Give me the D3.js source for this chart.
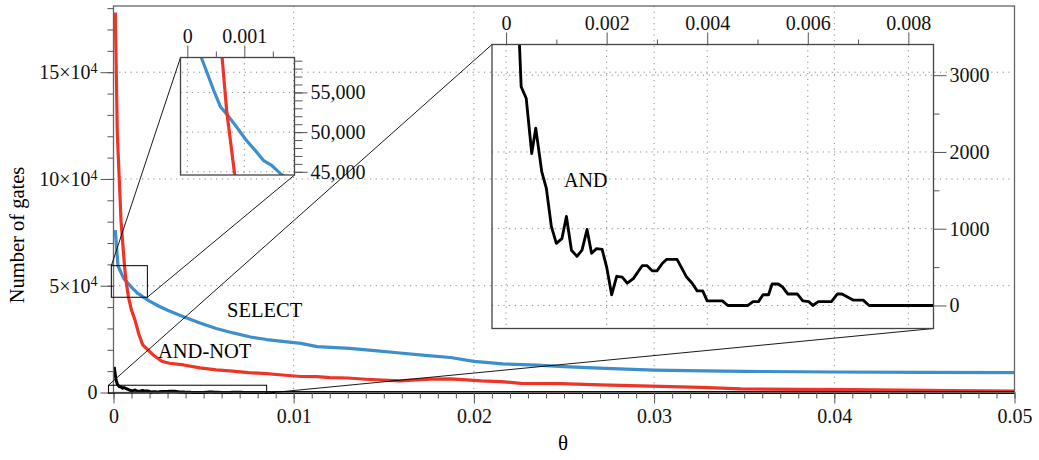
<!DOCTYPE html>
<html lang="en">
<head>
<meta charset="UTF-8">
<title>Number of gates vs theta</title>
<script src="https://cdn.jsdelivr.net/npm/d3@7"></script>
<style>
    * { margin: 0; padding: 0; }
    body { background: #fff; }
    .tick line { stroke: #555; }
    .grid { stroke: #888; stroke-dasharray: 1.2, 4.5; stroke-width: 1; }
</style>
</head>
<body>
<svg id="chart" width="1039" height="460"></svg>
<script>
    const FONT = "Liberation Serif, Times New Roman, serif";

    // values
    const selectTheta = [0.0001, 0.0002, 0.00025, 0.00034, 0.00046, 0.00058, 0.0007, 0.00087, 0.00102, 0.00119, 0.00134, 0.00148, 0.00163, 0.002, 0.0025, 0.003, 0.00388, 0.0048, 0.0057, 0.00664, 0.0076, 0.0085, 0.0095, 0.0104, 0.0113, 0.0131, 0.0145, 0.0159, 0.0173, 0.0187, 0.02, 0.0216, 0.0235, 0.025, 0.0273, 0.03, 0.0318, 0.0349, 0.04, 0.045, 0.05];
    const selectGates = [76000, 64800, 59300, 57600, 55300, 53200, 52200, 50600, 49100, 47700, 46400, 45800, 44800, 42800, 40500, 38500, 35500, 32500, 30000, 27900, 26000, 24800, 23800, 23000, 21500, 20700, 19600, 18500, 17400, 16400, 14600, 13400, 12800, 12100, 11300, 10500, 10200, 9900, 9600, 9400, 9300];

    const andNotTheta = [0.0001, 0.00021, 0.00042, 0.00061, 0.00069, 0.00083, 0.001, 0.00119, 0.0014, 0.00162, 0.0022, 0.00268, 0.0031, 0.0039, 0.0048, 0.0057, 0.0066, 0.0075, 0.0085, 0.0092, 0.0104, 0.0113, 0.012, 0.013, 0.014, 0.0159, 0.0168, 0.0176, 0.0187, 0.0198, 0.0204, 0.0215, 0.0226, 0.0248, 0.027, 0.0298, 0.0326, 0.0348, 0.038, 0.0409, 0.0437, 0.0464, 0.05];
    const andNotGates = [178000, 121600, 80000, 59400, 52700, 44700, 38500, 34000, 27500, 22300, 17600, 14600, 13700, 12900, 11500, 10600, 10000, 9300, 8800, 8300, 7500, 7400, 7000, 6800, 6200, 5400, 5900, 6300, 6400, 5800, 5400, 5100, 4300, 4200, 3600, 3000, 2400, 1700, 1500, 1300, 1100, 900, 600];

    const andTheta = [0.00004, 0.00009, 0.00014, 0.0002, 0.00026, 0.0003, 0.0004, 0.00051, 0.00059, 0.00071, 0.0008, 0.0009, 0.001, 0.00111, 0.0012, 0.0013, 0.00141, 0.00151, 0.00161, 0.0017, 0.0018, 0.00191, 0.002, 0.0021, 0.0022, 0.00231, 0.00241, 0.00253, 0.00271, 0.0028, 0.00291, 0.003, 0.00311, 0.00319, 0.0034, 0.00359, 0.0037, 0.0038, 0.00391, 0.004, 0.0043, 0.00441, 0.00481, 0.00491, 0.00502, 0.00511, 0.00522, 0.00529, 0.00541, 0.0055, 0.0056, 0.00579, 0.0059, 0.00602, 0.0061, 0.00621, 0.00647, 0.00659, 0.00668, 0.0069, 0.0071, 0.00722, 0.0085, 0.05];
    const andGates = [12000, 9000, 6000, 4200, 3500, 2850, 2700, 1980, 2310, 1740, 1530, 1030, 810, 870, 1160, 720, 640, 720, 990, 680, 740, 730, 500, 140, 380, 370, 290, 350, 520, 520, 450, 450, 550, 600, 600, 370, 290, 190, 190, 60, 60, 0, 0, 50, 50, 140, 140, 280, 280, 240, 150, 150, 60, 50, 0, 50, 50, 150, 150, 70, 70, 0, 0, 0];

    // ticks
    const xTicks = [0, 0.01, 0.02, 0.03, 0.04, 0.05];
    const xTickLabels = ["0", "0.01", "0.02", "0.03", "0.04", "0.05"];
    const yTicks = [0, 50000, 100000, 150000];
    const yTickBase = ["0", "5×10", "10×10", "15×10"];
    const yTickExp = ["", "4", "4", "4"];

    const zoomATicks = [0, 0.001];
    const zoomATickLabels = ["0", "0.001"];
    const zoomAYTicks = [45000, 50000, 55000];
    const zoomAYTickLabels = ["45,000", "50,000", "55,000"];

    const zoomBTicks = [0, 0.002, 0.004, 0.006, 0.008];
    const zoomBTickLabels = ["0", "0.002", "0.004", "0.006", "0.008"];
    const zoomBYTicks = [0, 1000, 2000, 3000];
    const zoomBYTickLabels = ["0", "1000", "2000", "3000"];

    const svg = d3.select("#chart").attr("font-family", FONT);

    // main scales
    const x = d3.scaleLinear().domain([0, 0.05]).range([113.5, 1014.5]);
    const y = d3.scaleLinear().domain([0, 181000]).range([392.5, 6]);

    // inset scales (upper-left small one, and the big one for AND)
    const xA = d3.scaleLinear().domain([-0.00012, 0.00188]).range([180.5, 294.5]);
    const yA = d3.scaleLinear().domain([44600, 59400]).range([175, 57.5]);
    const xB = d3.scaleLinear().domain([-0.00028, 0.0085]).range([492, 933.5]);
    const yB = d3.scaleLinear().domain([-300, 3400]).range([328.5, 44.5]);

    const series = [
        { theta: selectTheta, gates: selectGates, color: "#3d8fcc", width: 3.2 },
        { theta: andNotTheta, gates: andNotGates, color: "#ee3426", width: 3.2 },
        { theta: andTheta, gates: andGates, color: "#000", width: 3 }
    ];

    const defs = svg.append("defs");
    function clip(id, xs, ys, extra) {
        defs.append("clipPath").attr("id", id).append("rect")
            .attr("x", xs.range()[0]).attr("y", ys.range()[1])
            .attr("width", xs.range()[1] - xs.range()[0])
            .attr("height", ys.range()[0] - ys.range()[1] + (extra || 0));
    }
    clip("clipMain", x, y, 3);
    clip("clipA", xA, yA);
    clip("clipB", xB, yB);

    // grids
    function grid(xs, ys, xv, yv) {
        const g = svg.append("g");
        g.selectAll(".gx").data(xv).enter().append("line").attr("class", "grid")
            .attr("x1", d => xs(d)).attr("x2", d => xs(d))
            .attr("y1", ys.range()[1]).attr("y2", ys.range()[0]);
        g.selectAll(".gy").data(yv).enter().append("line").attr("class", "grid")
            .attr("x1", xs.range()[0]).attr("x2", xs.range()[1])
            .attr("y1", d => ys(d)).attr("y2", d => ys(d));
    }
    grid(x, y, [0.01, 0.02, 0.03, 0.04], [50000, 100000, 150000]);
    grid(xA, yA, zoomATicks, zoomAYTicks);
    grid(xB, yB, zoomBTicks, zoomBYTicks);

    // curves
    function drawLines(xs, ys, clipId, list, widthScale) {
        const line = d3.line().x(d => xs(d[0])).y(d => ys(d[1]));
        svg.append("g").attr("clip-path", `url(#${clipId})`)
            .selectAll("path").data(list).enter().append("path")
            .attr("d", d => line(d3.zip(d.theta, d.gates)))
            .attr("fill", "none")
            .attr("stroke", d => d.color)
            .attr("stroke-width", d => d.width * widthScale)
            .attr("stroke-linejoin", "round");
    }
    drawLines(x, y, "clipMain", series, 1);
    drawLines(xA, yA, "clipA", series.slice(0, 2), 1);
    drawLines(xB, yB, "clipB", series.slice(2), 0.95);

    // main frame
    svg.append("rect")
        .attr("x", 113.5).attr("y", 6).attr("width", 901).attr("height", 386.5)
        .attr("fill", "none").attr("stroke", "#666").attr("stroke-width", 1.3);

    // axis helper: draws an axis, drops the domain path, sets the serif font
    function axis(transform, ax) {
        return svg.append("g").attr("transform", transform)
            .call(ax)
            .call(g => g.select(".domain").remove())
            .attr("font-family", FONT)
            .attr("font-size", 20)
            .call(g => g.selectAll(".tick text").attr("fill", "#111"));
    }

    // main axes
    const xMinor = d3.range(0, 51).map(i => i / 1000);
    axis("translate(0,392.5)", d3.axisBottom(x).tickValues(xMinor).tickSize(6).tickFormat(""));
    axis("translate(0,392.5)", d3.axisBottom(x).tickValues(xTicks).tickSize(11).tickPadding(5).tickFormat((d, i) => xTickLabels[i]));

    const yMinor = d3.range(0, 180001, 10000);
    axis("translate(113.5,0)", d3.axisLeft(y).tickValues(yMinor).tickSize(6).tickFormat(""));
    const yAxisG = axis("translate(113.5,0)", d3.axisLeft(y).tickValues(yTicks).tickSize(13).tickPadding(3).tickFormat(""));
    yAxisG.selectAll(".tick text").each(function (d, i) {
        const t = d3.select(this);
        t.append("tspan").text(yTickBase[i]);
        if (yTickExp[i]) t.append("tspan").attr("dy", "-0.45em").attr("font-size", "14px").text(yTickExp[i]);
    });

    // boxes on the main plot + connectors to the insets
    function zoomBox(xs, ys) {
        const x0 = x(xs.domain()[0]), x1 = x(xs.domain()[1]);
        const y0 = y(ys.domain()[1]), y1 = y(ys.domain()[0]);
        svg.append("rect").attr("x", x0).attr("y", y0)
            .attr("width", x1 - x0).attr("height", y1 - y0)
            .attr("fill", "none").attr("stroke", "#000").attr("stroke-width", 1);
        svg.append("line").attr("x1", x0).attr("y1", y0)
            .attr("x2", xs.range()[0]).attr("y2", ys.range()[1])
            .attr("stroke", "#000").attr("stroke-width", 0.9);
        svg.append("line").attr("x1", x1).attr("y1", y1)
            .attr("x2", xs.range()[1]).attr("y2", ys.range()[0])
            .attr("stroke", "#000").attr("stroke-width", 0.9);
        svg.append("rect")
            .attr("x", xs.range()[0]).attr("y", ys.range()[1])
            .attr("width", xs.range()[1] - xs.range()[0])
            .attr("height", ys.range()[0] - ys.range()[1])
            .attr("fill", "none").attr("stroke", "#444").attr("stroke-width", 1.3);
    }
    zoomBox(xA, yA);
    zoomBox(xB, yB);

    // inset A axes
    axis(`translate(0,${yA.range()[1]})`, d3.axisTop(xA).tickValues([0.0005, 0.0015]).tickSize(6).tickFormat(""));
    axis(`translate(0,${yA.range()[1]})`, d3.axisTop(xA).tickValues(zoomATicks).tickSize(12).tickPadding(3).tickFormat((d, i) => zoomATickLabels[i]));
    axis(`translate(${xA.range()[1]},0)`, d3.axisRight(yA).tickValues(d3.range(45000, 59001, 1000)).tickSize(8).tickFormat(""));
    axis(`translate(${xA.range()[1]},0)`, d3.axisRight(yA).tickValues(zoomAYTicks).tickSize(13).tickPadding(3).tickFormat((d, i) => zoomAYTickLabels[i]));

    // inset B axes
    axis(`translate(0,${yB.range()[1]})`, d3.axisTop(xB).tickValues([0.001, 0.003, 0.005, 0.007]).tickSize(5).tickFormat(""));
    axis(`translate(0,${yB.range()[1]})`, d3.axisTop(xB).tickValues(zoomBTicks).tickSize(12).tickPadding(2.5).tickFormat((d, i) => zoomBTickLabels[i]));
    axis(`translate(${xB.range()[1]},0)`, d3.axisRight(yB).tickValues([500, 1500, 2500]).tickSize(6).tickFormat(""));
    axis(`translate(${xB.range()[1]},0)`, d3.axisRight(yB).tickValues(zoomBYTicks).tickSize(13).tickPadding(3).tickFormat((d, i) => zoomBYTickLabels[i]));

    // text
    svg.append("text").attr("x", 227).attr("y", 317).attr("font-size", "20.5px").text("SELECT");
    svg.append("text").attr("x", 158).attr("y", 358).attr("font-size", "20.5px").text("AND-NOT");
    svg.append("text").attr("x", 564).attr("y", 187).attr("font-size", "20px").text("AND");

    svg.append("text").attr("transform", "translate(24,235) rotate(-90)")
        .attr("text-anchor", "middle").attr("font-size", "20.5px").text("Number of gates");
    svg.append("text").attr("x", 563).attr("y", 450)
        .attr("text-anchor", "middle").attr("font-size", "21px").text("θ");
</script>
</body>
</html>
